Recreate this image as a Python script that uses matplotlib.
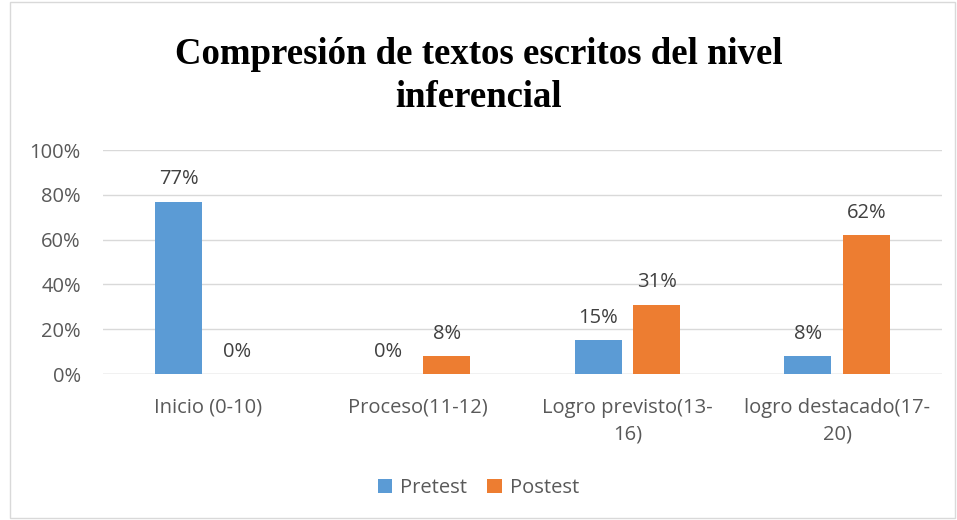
import matplotlib
matplotlib.use("Agg")
import matplotlib.pyplot as plt
from matplotlib.patches import Rectangle
import numpy as np

categories = ["Inicio (0-10)", "Proceso(11-12)", "Logro previsto(13-\n16)", "logro destacado(17-\n20)"]
pretest = [77, 0, 15, 8]
postest = [0, 8, 31, 62]
series_names = ["Pretest", "Postest"]
yticks = [0, 20, 40, 60, 80, 100]

W, H = 957, 520
fig = plt.figure(figsize=(W/100, H/100), dpi=100)
plt.rcParams['font.family'] = ['Open Sans', 'DejaVu Sans']

# border
fig.patches.append(Rectangle((10/W, 2/H), (W-12)/W, (H-4)/H, transform=fig.transFigure,
                             fill=False, edgecolor='#d9d9d9', linewidth=1))

left, right = 103/W, 942/W
bottom, top = 1-374/H, 1-150/H
ax = fig.add_axes([left, bottom, right-left, top-bottom])

FS = 14.5
x = np.arange(len(categories))
bw = 0.224
off = 0.14
c1, c2 = '#5b9bd5', '#ed7d31'
b1 = ax.bar(x - off, pretest, bw, color=c1, label=series_names[0], zorder=3)
b2 = ax.bar(x + off, postest, bw, color=c2, label=series_names[1], zorder=3)

for bars, vals in ((b1, pretest), (b2, postest)):
    for r, v in zip(bars, vals):
        ax.text(r.get_x()+r.get_width()/2, v + 5.5, f"{v}%", ha='center', va='bottom',
                fontsize=FS, color='#404040')

ax.set_xlim(-0.5, len(categories)-0.5)
ax.set_ylim(0, 100)
ax.set_yticks(yticks)
ax.set_yticklabels([f"{t}%" for t in yticks], fontsize=FS, color='#595959')
ax.set_xticks(x)
ax.set_xticklabels(categories, fontsize=FS, color='#595959', linespacing=1.45)
ax.tick_params(axis='y', length=0, pad=16)
ax.tick_params(axis='x', length=0, pad=17)
ax.grid(axis='y', color='#d9d9d9', linewidth=1, zorder=0)
for s in ax.spines.values():
    s.set_visible(False)
ax.axhline(0, color='#d9d9d9', linewidth=1, zorder=2)

fig.text(0.5, 1-76/H, "Compresión de textos escritos del nivel\ninferencial",
         ha='center', va='center', fontsize=26.5, fontweight='bold',
         family=['Liberation Serif', 'DejaVu Serif'], linespacing=1.28)

leg = fig.legend(handles=[b1, b2], labels=series_names, loc='center',
                 bbox_to_anchor=(0.5, 1-488/H), ncol=2, frameon=False,
                 fontsize=FS, handlelength=0.7, handleheight=0.7,
                 columnspacing=1.0, handletextpad=0.4)
for t in leg.get_texts():
    t.set_color('#595959')

fig.savefig("out.png", dpi=100)
